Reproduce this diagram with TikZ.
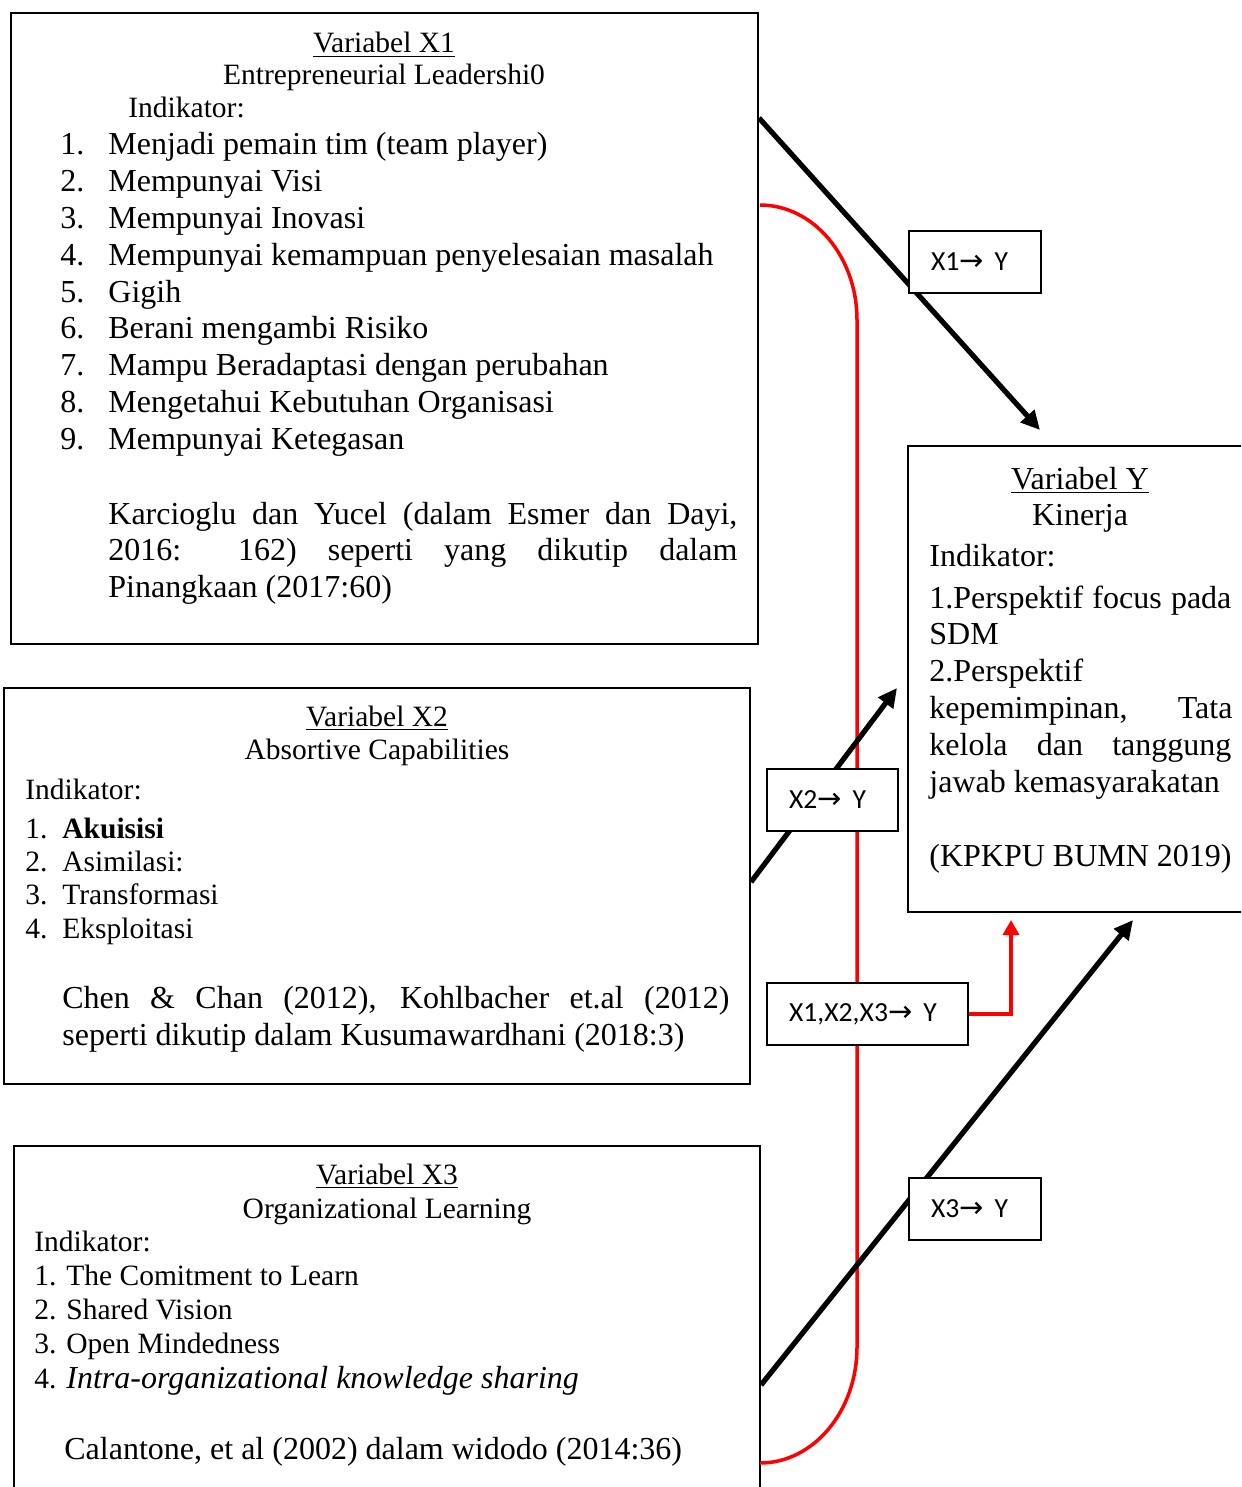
\documentclass[tikz,border=0pt]{standalone}
\usepackage{fontspec}
\setmainfont{Liberation Serif}
\newfontfamily\lblfont{Carlito}
\newfontfamily\arrfont{DejaVu Sans}
\usetikzlibrary{arrows.meta,fit}
\newsavebox\ulbox
\newcommand\myul[1]{\sbox\ulbox{#1}\rlap{\rule[-2.2pt]{\wd\ulbox}{0.9pt}}\usebox\ulbox}
\newcommand\fbig{\fontsize{16}{19}\selectfont}
\newcommand\fsmall{\fontsize{14.75}{17.7}\selectfont}
\newcommand\flbl{\lblfont\fontsize{13.8}{16}\selectfont}
\newcommand\rarr{\hspace{0.3pt}{\arrfont\fontsize{14.5}{15}\selectfont →}\hspace{0.6pt}}
\begin{document}
\begin{tikzpicture}[x=0.5pt,y=-0.5pt,
  box/.style={draw,line width=1pt,inner sep=0pt},
  txt/.style={inner sep=0pt,anchor=base west},
  ctr/.style={inner sep=0pt,anchor=base},
  lbl/.style={draw,line width=1pt,fill=white,anchor=north west,inner xsep=11pt,inner ysep=0pt,minimum height=31pt,text width=#1,align=left,font=\flbl},
  link/.style={line width=2.6pt,-{Triangle[length=9.5pt,width=9pt]}},
  redlink/.style={red,line width=1.75pt},
  redarr/.style={red,line width=1.75pt,-{Triangle[length=7.5pt,width=8pt]}}]
\useasboundingbox (0,0) rectangle (1241,1487);
\clip (0,0) rectangle (1241,1487);

% boxes
\node[box,fit={(11,13) (758,644)}] (bx1) {};
\node[box,fit={(4,688) (750,1084)}] (bx2) {};
\node[box,fit={(14,1146) (760,1520)}] (bx3) {};
\node[box,fit={(908,446) (1270,912)}] (by) {};

% X1 text
\node[ctr,font=\fsmall] (x1h) at (384,53) {\myul{Variabel X1}};
\node[ctr,font=\fsmall] (x1s) at (384,85) {Entrepreneurial Leadershi0};
\node[txt,font=\fsmall] (x1i) at (128,118) {Indikator:};
\foreach \t [count=\i] in {{Menjadi pemain tim (team player)},{Mempunyai Visi},{Mempunyai Inovasi},{Mempunyai kemampuan penyelesaian masalah},{Gigih},{Berani mengambi Risiko},{Mampu Beradaptasi dengan perubahan},{Mengetahui Kebutuhan Organisasi},{Mempunyai Ketegasan}}
  \node[txt,font=\fbig] (x1l\i) at (60,{155+36.75*(\i-1)}) {\makebox[24pt][l]{\i.}\t};
\node[txt,font=\fbig] (x1c1) at (108,524) {\makebox[314.5pt][s]{Karcioglu dan Yucel (dalam Esmer dan Dayi,}};
\node[txt,font=\fbig] (x1c2) at (108,560.5) {\makebox[314.5pt][s]{2016: 162) seperti yang dikutip dalam}};
\node[txt,font=\fbig] (x1c3) at (108,597) {Pinangkaan (2017:60)};

% X2 text
\node[ctr,font=\fsmall] (x2h) at (377,726) {\myul{Variabel X2}};
\node[ctr,font=\fsmall] (x2s) at (377,759) {Absortive Capabilities};
\node[txt,font=\fsmall] (x2i) at (25,799) {Indikator:};
\node[txt,font=\fsmall] (x2l1) at (25,838) {\makebox[18.5pt][l]{1.}\textbf{Akuisisi}};
\node[txt,font=\fsmall] (x2l2) at (25,871.3) {\makebox[18.5pt][l]{2.}Asimilasi:};
\node[txt,font=\fsmall] (x2l3) at (25,904.7) {\makebox[18.5pt][l]{3.}Transformasi};
\node[txt,font=\fsmall] (x2l4) at (25,938) {\makebox[18.5pt][l]{4.}Eksploitasi};
\node[txt,font=\fbig] (x2c1) at (62,1008) {\makebox[333.5pt][s]{Chen \& Chan (2012), Kohlbacher et.al (2012)}};
\node[txt,font=\fbig] (x2c2) at (62,1045) {seperti dikutip dalam Kusumawardhani (2018:3)};

% X3 text
\node[ctr,font=\fsmall] (x3h) at (387,1184) {\myul{Variabel X3}};
\node[ctr,font=\fsmall] (x3s) at (387,1218) {Organizational Learning};
\node[txt,font=\fsmall] (x3i) at (34,1251) {Indikator:};
\node[txt,font=\fsmall] (x3l1) at (34,1285) {1. The Comitment to Learn};
\node[txt,font=\fsmall] (x3l2) at (34,1319) {2. Shared Vision};
\node[txt,font=\fsmall] (x3l3) at (34,1353) {3. Open Mindedness};
\node[txt,font=\fsmall] (x3l4) at (34,1388) {4. {\fbig\itshape Intra-organizational knowledge sharing}};
\node[txt,font=\fbig] (x3c) at (64,1459) {Calantone, et al (2002) dalam widodo (2014:36)};

% Y text
\node[ctr,font=\fbig] (yh) at (1080,489) {\myul{Variabel Y}};
\node[ctr,font=\fbig] (ys) at (1080,525) {Kinerja};
\node[txt,font=\fbig] (yi) at (929,566) {Indikator:};
\node[txt,font=\fbig] (yl1) at (929,608) {\makebox[151pt][s]{1.Perspektif focus pada}};
\node[txt,font=\fbig] (yl2) at (929,644.5) {SDM};
\node[txt,font=\fbig] (yl3) at (929,681) {2.Perspektif};
\node[txt,font=\fbig] (yl4) at (929,718) {\makebox[151.5pt][s]{kepemimpinan, Tata}};
\node[txt,font=\fbig] (yl5) at (929,755) {\makebox[151pt][s]{kelola dan tanggung}};
\node[txt,font=\fbig] (yl6) at (929,792) {jawab kemasyarakatan};
\node[txt,font=\fbig] (yc) at (929,866) {(KPKPU BUMN 2019)};

% connector end points
\coordinate (a1s) at (bx1.east |- 0,118);
\coordinate (a1e) at (1040,430);
\coordinate (a2s) at (bx2.east |- 0,882);
\coordinate (a2e) at (897,688);
\coordinate (a3s) at (bx3.east |- 0,1385);
\coordinate (a3e) at (1133,920);
\coordinate (rs) at (760,205);
\coordinate (re) at (760,1463);
\coordinate (rt) at (1011,920);

% red connector X1 -> X3
\draw[redlink] (rs) .. controls (813.5,205) and (857,256.5) .. (857,320)
  -- (857,1347) .. controls (857,1411) and (813.5,1463) .. (re);

% black arrows
\draw[link] (a1s) -- (a1e);
\draw[link] (a2s) -- (a2e);
\draw[link] (a3s) -- (a3e);

% label boxes
\node[lbl=44pt] (l1) at (908,230) {X1\rarr\ Y};
\node[lbl=43.5pt] (l2) at (766,768) {X2\rarr\ Y};
\node[lbl=78.5pt] (l3) at (766,982) {X1,X2,X3\rarr\ Y};
\node[lbl=44pt] (l4) at (908,1177) {X3\rarr\ Y};

% red arrow
\draw[redarr] (l3.east) -| (rt);
\end{tikzpicture}
\end{document}
